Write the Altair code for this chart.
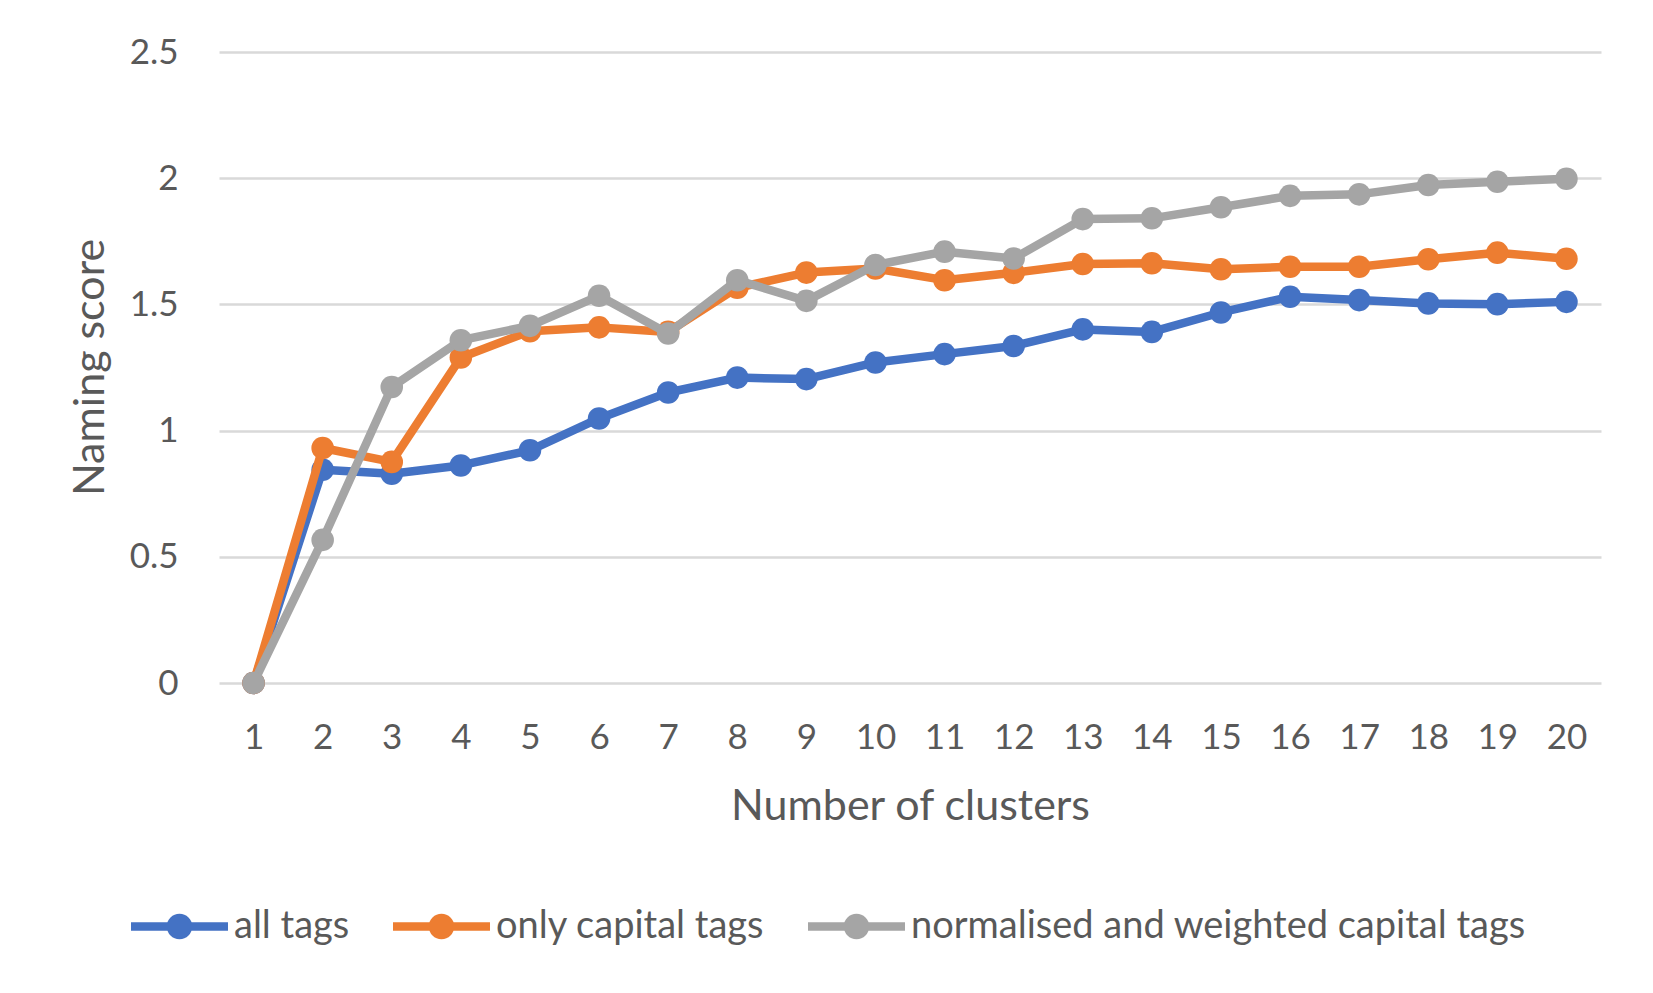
import altair as alt
import pandas as pd

clusters = list(range(1, 21))
all_tags = [0, 0.845, 0.829, 0.862, 0.922, 1.048, 1.151, 1.210, 1.204, 1.270,
            1.303, 1.335, 1.401, 1.391, 1.468, 1.530, 1.517, 1.504, 1.501, 1.510]
only_capital = [0, 0.931, 0.876, 1.290, 1.394, 1.409, 1.391, 1.566, 1.626, 1.642,
                1.596, 1.625, 1.660, 1.663, 1.639, 1.649, 1.649, 1.679, 1.705, 1.681]
normalised = [0, 0.567, 1.173, 1.358, 1.415, 1.534, 1.385, 1.596, 1.514, 1.656,
              1.709, 1.682, 1.838, 1.841, 1.885, 1.930, 1.936, 1.973, 1.986, 1.998]
series_names = ["all tags", "only capital tags", "normalised and weighted capital tags"]
series_colors = ["#4472C4", "#ED7D31", "#A5A5A5"]
y_ticks = [0, 0.5, 1, 1.5, 2, 2.5]

rows = []
for name, vals in zip(series_names, [all_tags, only_capital, normalised]):
    for c, v in zip(clusters, vals):
        rows.append({"clusters": c, "score": v, "series": name})
df = pd.DataFrame(rows)

FONT = "Lato"
TXT = "#595959"
LINE_W = 8.5

legend_path = ("M-2,0L2,0M-0.35,0A0.35,0.35,0,1,1,0.35,0"
               "A0.35,0.35,0,1,1,-0.35,0Z")


def make_legend():
    return alt.Legend(
        title=None,
        orient="none",
        legendX=-68,
        legendY=846,
        direction="horizontal",
        symbolType=legend_path,
        symbolSize=2352,
        symbolStrokeWidth=LINE_W,
        symbolOpacity=1,
        labelOffset=26,
        columnPadding=26,
        labelFont=FONT,
        labelFontSize=38,
        labelColor=TXT,
        labelLimit=2000,
        padding=0,
    )


col_scale = alt.Scale(domain=series_names, range=series_colors)
stroke_enc = alt.Stroke("series:N", scale=col_scale, legend=make_legend())
fill_enc = alt.Fill("series:N", scale=col_scale, legend=make_legend())

x = alt.X(
    "clusters:O",
    scale=alt.Scale(type="point", padding=0.5),
    axis=alt.Axis(
        title="Number of clusters",
        labelAngle=0,
        grid=False,
        domain=False,
        ticks=False,
        tickSize=0,
        labelPadding=37,
        labelFont=FONT,
        labelFontSize=35,
        labelColor=TXT,
        titleFont=FONT,
        titleFontSize=43,
        titleFontWeight="normal",
        titleColor=TXT,
        titleBaseline="alphabetic",
        titleX=691,
        titleY=136,
        titleAlign="center",
    ),
)
y = alt.Y(
    "score:Q",
    scale=alt.Scale(domain=[0, 2.5], nice=False),
    axis=alt.Axis(
        title="Naming score",
        values=y_ticks,
        format="~g",
        grid=True,
        gridColor="#D9D9D9",
        gridWidth=2.5,
        domain=False,
        ticks=False,
        tickSize=0,
        labelPadding=41,
        labelFont=FONT,
        labelFontSize=35,
        labelColor=TXT,
        titleFont=FONT,
        titleFontSize=43,
        titleFontWeight="normal",
        titleColor=TXT,
        titleAngle=270,
        titleBaseline="alphabetic",
        titleAlign="center",
        titleX=-116,
        titleY=315,
    ),
)

base = alt.Chart(df).encode(x=x, y=y)

layers = []
for name in series_names:
    sub = base.transform_filter(alt.datum.series == name)
    layers.append(sub.mark_line(strokeWidth=LINE_W, strokeJoin="round", strokeCap="round")
                  .encode(stroke=stroke_enc))
    layers.append(sub.mark_point(filled=True, size=510, opacity=1, shape="circle")
                  .encode(fill=fill_enc))

chart = alt.layer(*layers).properties(
    width=1382,
    height=631,
    autosize=alt.AutoSizeParams(type="none"),
    padding={"left": 211, "top": 44, "right": 44, "bottom": 302},
    background="white",
).configure_view(stroke=None)

chart.save("out.html", embed_options={"renderer": "svg", "actions": False})
